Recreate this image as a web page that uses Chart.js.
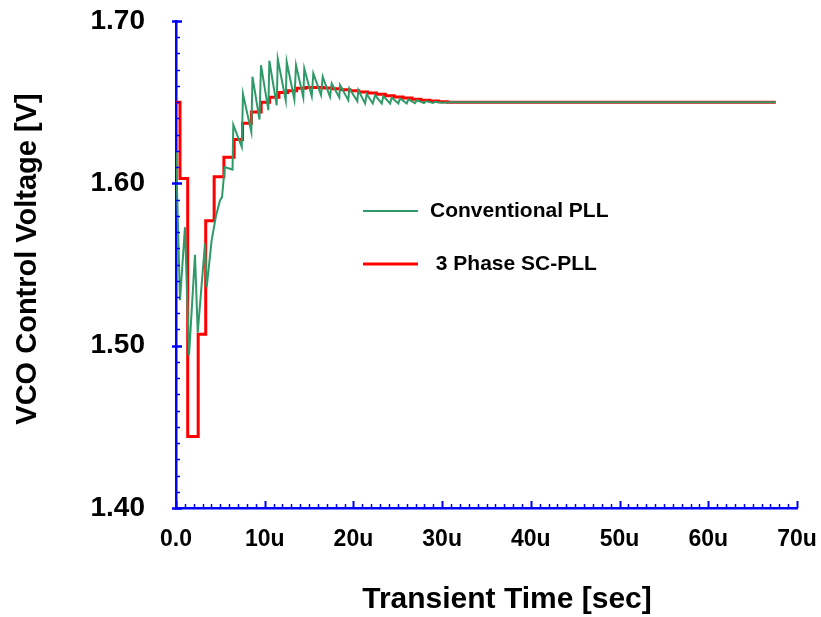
<!DOCTYPE html>
<html>
<head>
<meta charset="utf-8">
<script src="https://cdn.jsdelivr.net/npm/chart.js@4/dist/chart.umd.min.js"></script>
<style>
  html, body { margin: 0; padding: 0; background: #ffffff; }
  #wrap { width: 821px; height: 617px; }
</style>
</head>
<body>
<div id="wrap"><canvas id="c" width="821" height="617"></canvas></div>
<script>
// Time axis in microseconds, voltages in volts.
const convTime = [0, 0.45, 1.01, 1.47, 2.14, 2.45, 3.27, 3.46, 4.02, 4.51,
  4.96, 5.19, 5.49, 6.37, 6.46, 7.41, 7.55, 8.49, 8.62, 9.41,
  9.58, 10.41, 10.52, 11.35, 11.47, 12.37, 12.48, 13.34, 13.53, 14.35,
  14.46, 15.30, 15.48, 16.35, 16.54, 17.36, 17.55, 18.41, 18.49, 19.42,
  19.54, 20.44, 20.55, 21.31, 21.50, 22.18, 22.44, 23.19, 23.37, 24.13,
  24.32, 25.06, 25.25, 26.01, 26.19, 26.94, 27.17, 27.96, 28.18, 28.97,
  29.20, 29.99, 30.90, 67.60];
const convVolt = [1.620, 1.528, 1.573, 1.494, 1.556, 1.508, 1.563, 1.536, 1.565, 1.580,
  1.5895, 1.5915, 1.610, 1.6085, 1.636, 1.6224, 1.655, 1.6317, 1.6657, 1.6393,
  1.6728, 1.6451, 1.6755, 1.6481, 1.6765, 1.6512, 1.6749, 1.6517, 1.6728, 1.6529,
  1.6708, 1.6537, 1.6677, 1.6543, 1.6656, 1.6533, 1.6615, 1.6529, 1.6605, 1.6512,
  1.6585, 1.6506, 1.6574, 1.6492, 1.6549, 1.6492, 1.6543, 1.6492, 1.6537, 1.6492,
  1.6529, 1.6492, 1.6523, 1.6492, 1.6517, 1.6494, 1.6512, 1.6494, 1.6507, 1.6495,
  1.6503, 1.6497, 1.650, 1.650];

// 3 phase switched-capacitor PLL: value held from each update instant
const scTime = [0, 0.45, 1.32, 2.50, 3.35, 4.30, 5.40, 6.55, 7.50, 8.50,
  9.60, 10.55, 11.60, 12.60, 13.60, 14.60, 15.60, 16.60, 17.60, 18.60,
  19.60, 20.60, 21.60, 22.60, 23.60, 24.60, 25.60, 26.60, 27.60, 28.60,
  29.60, 30.60, 67.60];
const scVolt = [1.650, 1.603, 1.444, 1.507, 1.577, 1.604, 1.616, 1.627, 1.637, 1.644,
  1.650, 1.653, 1.656, 1.657, 1.6585, 1.659, 1.659, 1.6588, 1.6583, 1.6577,
  1.657, 1.6563, 1.6556, 1.6548, 1.654, 1.6532, 1.6525, 1.6518, 1.6512, 1.6507,
  1.6503, 1.650, 1.650];

const xTicks = [0, 10, 20, 30, 40, 50, 60, 70];
const yTicks = [1.40, 1.50, 1.60, 1.70];
const seriesNames = ['Conventional PLL', ' 3 Phase SC-PLL'];
const xTitle = 'Transient Time [sec]';
const yTitle = 'VCO Control Voltage [V]';

const FONT = "'Liberation Sans', Arial, sans-serif";
const AXIS_BLUE = '#0000ff';
const GREEN = '#2f9a68';
const RED = '#ff0000';

const toPoints = (xs, ys) => xs.map((t, i) => ({ x: t, y: ys[i] }));

// Minor/major tick marks, axis titles and the inset legend
const decorations = {
  id: 'decorations',
  afterDraw(chart) {
    const { ctx, chartArea: a, scales: { x, y } } = chart;
    ctx.save();
    ctx.strokeStyle = AXIS_BLUE;

    // y axis: minor every 0.01, major every 0.1
    for (let i = 0; i <= 30; i++) {
      const v = yTicks[0] + i * 0.01;
      const py = Math.round(y.getPixelForValue(v)) + 0.5;
      const major = i % 10 === 0;
      ctx.lineWidth = major ? 2.5 : 1.5;
      ctx.beginPath();
      ctx.moveTo(a.left - (major ? 4 : 0), py);
      ctx.lineTo(a.left + (major ? 6 : 4), py);
      ctx.stroke();
    }
    // x axis: minor every 1u, major every 10u
    for (let i = 0; i <= 70; i++) {
      const px = Math.round(x.getPixelForValue(i)) + 0.5;
      const major = i % 10 === 0;
      ctx.lineWidth = major ? 2 : 1.5;
      ctx.beginPath();
      ctx.moveTo(px, a.bottom);
      ctx.lineTo(px, a.bottom - (major ? 7 : 4));
      ctx.stroke();
    }

    // axis titles
    ctx.fillStyle = '#000000';
    ctx.textAlign = 'center';
    ctx.textBaseline = 'middle';
    ctx.font = `bold 30px ${FONT}`;
    ctx.fillText(xTitle, a.left + 331, 600);
    ctx.save();
    ctx.translate(28, a.top + 238);
    ctx.rotate(-Math.PI / 2);
    ctx.font = `bold 29px ${FONT}`;
    ctx.fillText(yTitle, 0, 0);
    ctx.restore();

    // legend
    const colors = [GREEN, RED];
    const widths = [2, 3];
    const rowsY = [a.top + 190, a.top + 243];
    ctx.font = `bold 21px ${FONT}`;
    ctx.textAlign = 'left';
    seriesNames.forEach((name, i) => {
      ctx.strokeStyle = colors[i];
      ctx.lineWidth = widths[i];
      ctx.beginPath();
      ctx.moveTo(a.left + 187, rowsY[i]);
      ctx.lineTo(a.left + 242, rowsY[i]);
      ctx.stroke();
      ctx.fillText(name, a.left + 254, rowsY[i]);
    });
    ctx.restore();
  }
};

new Chart(document.getElementById('c'), {
  type: 'line',
  data: {
    datasets: [
      {
        label: seriesNames[0],
        data: toPoints(convTime, convVolt),
        borderColor: GREEN,
        borderWidth: 2,
        pointRadius: 0,
        tension: 0,
        fill: false
      },
      {
        label: seriesNames[1],
        data: toPoints(scTime, scVolt),
        borderColor: RED,
        borderWidth: 3,
        pointRadius: 0,
        stepped: 'before',
        fill: false
      }
    ]
  },
  options: {
    responsive: false,
    animation: false,
    devicePixelRatio: 1,
    layout: { padding: { top: 21, right: 24, left: 0, bottom: 0 } },
    plugins: {
      legend: { display: false },
      tooltip: { enabled: false }
    },
    scales: {
      x: {
        type: 'linear',
        min: 0,
        max: 70,
        afterFit: s => {
          s.height = 109;
          s.paddingLeft = 0;
          s.paddingRight = 0;
        },
        afterBuildTicks: s => { s.ticks = xTicks.map(v => ({ value: v })); },
        grid: { display: false, drawTicks: false },
        border: { display: true, color: AXIS_BLUE, width: 2.5 },
        ticks: {
          padding: 18,
          maxRotation: 0,
          color: '#000000',
          font: { family: FONT, size: 23, weight: 'bold' },
          callback: v => (v === 0 ? '0.0' : v + 'u')
        }
      },
      y: {
        type: 'linear',
        min: 1.40,
        max: 1.70,
        afterFit: s => {
          s.width = 176;
          s.paddingTop = 0;
          s.paddingBottom = 0;
        },
        afterBuildTicks: s => { s.ticks = yTicks.map(v => ({ value: v })); },
        grid: { display: false, drawTicks: false },
        border: { display: true, color: AXIS_BLUE, width: 2.5 },
        ticks: {
          padding: 31,
          color: '#000000',
          font: { family: FONT, size: 28, weight: 'bold' },
          callback: v => v.toFixed(2)
        }
      }
    }
  },
  plugins: [decorations]
});
</script>
</body>
</html>
